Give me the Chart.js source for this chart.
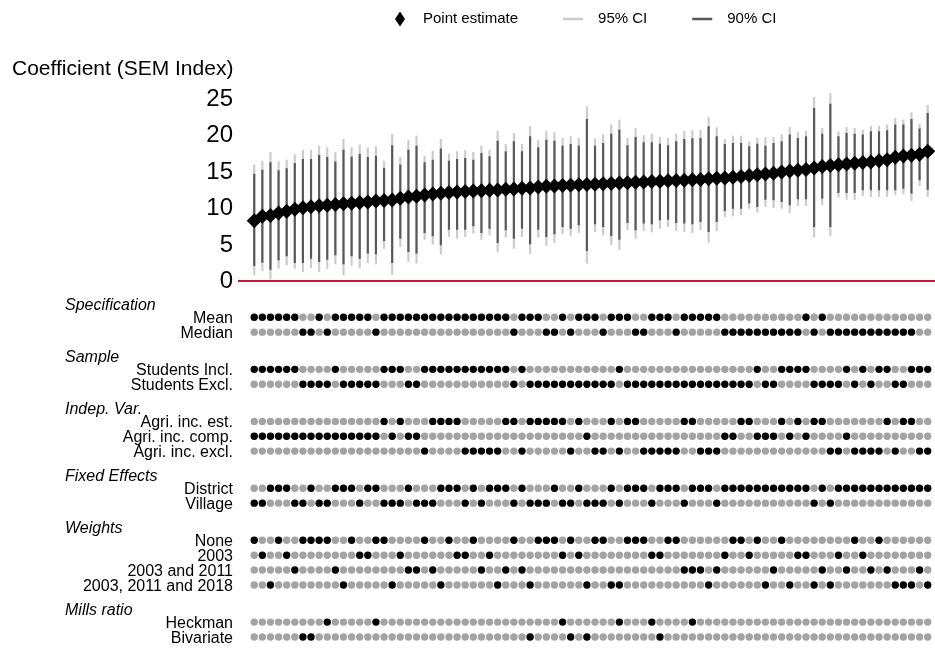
<!DOCTYPE html>
<html>
<head>
<meta charset="utf-8">
<script src="https://cdn.jsdelivr.net/npm/chart.js@4.4.1/dist/chart.umd.min.js"></script>
<style>
  html, body { margin: 0; padding: 0; background: #ffffff; }
  #wrap { position: relative; width: 935px; height: 648px; overflow: hidden; background: #fff; }
  canvas { position: absolute; left: 0; }
  #topChart { top: 0; }
  #bottomChart { top: 293px; }
</style>
</head>
<body>
<div id="wrap">
  <canvas id="topChart" width="935" height="293"></canvas>
  <canvas id="bottomChart" width="935" height="355"></canvas>
</div>
<script>
// ---------------- DATA ----------------
const estimate = [8.2, 8.8, 8.9, 9.25, 9.5, 9.75, 9.95, 10.1, 10.25, 10.3,
  10.4, 10.5, 10.58, 10.67, 10.76, 10.9, 10.95, 11.03, 11.26, 11.45,
  11.55, 11.7, 11.85, 11.95, 12.04, 12.12, 12.2, 12.25, 12.3, 12.35,
  12.4, 12.5, 12.55, 12.62, 12.68, 12.8, 12.9, 12.95, 13.0, 13.05,
  13.1, 13.15, 13.2, 13.25, 13.3, 13.35, 13.4, 13.45, 13.5, 13.55,
  13.6, 13.65, 13.7, 13.75, 13.8, 13.85, 13.95, 14.0, 14.05, 14.15,
  14.25, 14.4, 14.5, 14.6, 14.7, 14.85, 15.0, 15.1, 15.2, 15.4,
  15.6, 15.75, 15.85, 15.95, 16.05, 16.15, 16.25, 16.4, 16.55, 16.9,
  17.05, 17.15, 17.3, 17.7];

const ci95Low = [0.76, 1.35, 0.21, 1.67, 2.13, 1.67, 1.22, 1.76, 1.22, 1.67,
  2.27, 0.76, 2.08, 1.76, 2.45, 2.27, 4.41, 0.80, 4.64, 2.59,
  2.36, 5.64, 4.96, 3.59, 6.01, 5.78, 6.01, 6.47, 5.64, 6.24,
  3.96, 5.92, 4.41, 6.01, 3.64, 5.92, 4.78, 5.19, 6.38, 6.10,
  6.56, 2.36, 6.69, 6.24, 4.87, 4.18, 6.92, 5.78, 6.83, 6.65,
  7.15, 7.38, 6.83, 6.69, 6.56, 6.92, 5.23, 6.83, 8.75, 8.84,
  8.98, 9.89, 9.34, 10.12, 9.98, 9.89, 9.30, 10.26, 10.26, 5.92,
  10.35, 6.10, 11.40, 11.12, 11.12, 11.58, 11.49, 11.49, 11.49, 11.72,
  11.85, 10.94, 12.95, 11.49];

const ci90Low = [2.04, 2.49, 1.53, 2.81, 3.36, 2.45, 2.45, 3.04, 2.59, 2.90,
  3.50, 2.27, 3.36, 3.04, 3.73, 3.64, 5.46, 2.45, 5.78, 3.96,
  3.73, 6.56, 6.10, 4.87, 7.01, 7.01, 7.01, 7.47, 6.56, 7.15,
  5.19, 6.92, 5.78, 7.15, 5.01, 7.01, 6.01, 6.38, 7.38, 7.15,
  7.61, 4.09, 7.74, 7.38, 6.15, 5.64, 7.93, 6.92, 7.84, 7.74,
  8.29, 8.38, 7.93, 7.84, 7.74, 8.06, 6.69, 8.06, 9.57, 9.89,
  9.89, 10.58, 10.12, 11.12, 11.03, 10.80, 10.35, 11.17, 11.17, 7.38,
  11.26, 7.38, 12.04, 12.04, 12.04, 12.40, 12.40, 12.40, 12.40, 12.40,
  12.63, 11.95, 13.77, 12.49];

const ci90High = [14.59, 15.14, 16.15, 15.05, 15.32, 16.05, 16.60, 16.60, 17.15, 16.88,
  16.24, 17.88, 16.92, 17.29, 16.88, 17.06, 15.37, 18.47, 15.83, 17.88,
  18.43, 16.15, 16.51, 18.02, 16.37, 16.60, 16.74, 16.51, 17.43, 16.97,
  19.11, 17.65, 19.02, 17.65, 19.71, 18.20, 19.25, 19.11, 18.43, 18.66,
  18.43, 22.08, 18.43, 18.80, 20.07, 20.62, 18.47, 19.62, 18.89, 18.89,
  18.70, 18.47, 19.02, 19.34, 19.43, 19.48, 21.08, 19.71, 18.66, 18.80,
  18.80, 18.34, 18.70, 18.43, 18.80, 19.02, 19.94, 19.48, 19.71, 23.59,
  20.07, 24.18, 19.71, 20.16, 20.07, 19.94, 20.39, 20.39, 20.53, 21.31,
  21.31, 22.08, 20.76, 22.90];

const ci95High = [15.83, 16.37, 17.56, 16.28, 16.51, 17.24, 17.88, 17.88, 18.43, 18.20,
  17.52, 19.34, 18.20, 18.57, 18.16, 18.34, 16.37, 20.07, 16.88, 19.25,
  19.80, 17.06, 17.74, 19.34, 17.33, 17.65, 17.79, 17.56, 18.43, 17.88,
  20.48, 18.66, 20.16, 18.66, 21.08, 19.25, 20.48, 20.26, 19.48, 19.71,
  19.48, 23.82, 19.39, 19.94, 21.31, 21.99, 19.48, 20.80, 19.84, 20.07,
  19.62, 19.48, 20.07, 20.48, 20.53, 20.62, 22.36, 20.94, 19.34, 19.80,
  19.80, 19.02, 19.48, 19.62, 19.62, 19.94, 20.94, 20.30, 20.48, 25.10,
  20.85, 25.64, 20.39, 20.99, 20.85, 20.62, 21.17, 21.17, 21.31, 22.22,
  21.99, 23.00, 21.44, 24.00];

const yTicks = [0, 5, 10, 15, 20, 25];

// Specification choices per model (one digit per model, in sorted order)
const specCode   = "0000001101000001000000000000000010001101000100011000100000111111111101011111111111";
const sampleCode = "000000111101111100011000000000001011111111111011111111111111110110000111101010011000";
const indepCode  = "111111111111111101011200002222200200000201220200222220022211001110101002212222020022";
const fixedCode  = "110001101100010011101110001010001011101101110100010001000100000000000101000000000000";
const weightCode = "013012000023011003122023011021320230001013003300011002223210010320311323120120233323";
const millsCode  = "000000220100000100000000000000000020001202000100012000100000000000000000000000000000";

const groups = [
  { title: 'Specification', codes: specCode,   rows: [['Mean', 0], ['Median', 1]] },
  { title: 'Sample',        codes: sampleCode, rows: [['Students Incl.', 0], ['Students Excl.', 1]] },
  { title: 'Indep. Var.',   codes: indepCode,  rows: [['Agri. inc. est.', 0], ['Agri. inc. comp.', 1], ['Agri. inc. excl.', 2]] },
  { title: 'Fixed Effects', codes: fixedCode,  rows: [['District', 0], ['Village', 1]] },
  { title: 'Weights',       codes: weightCode, rows: [['None', 0], ['2003', 1], ['2003 and 2011', 2], ['2003, 2011 and 2018', 3]] },
  { title: 'Mills ratio',   codes: millsCode,  rows: [['Heckman', 1], ['Bivariate', 2]] }
];

const legendOrder = ['Point estimate', '95% CI', '90% CI'];

// ---------------- STYLE / BUILD ----------------
const FONT = '"Liberation Sans", Arial, Helvetica, sans-serif';
Chart.defaults.font.family = FONT;
Chart.defaults.color = '#000';

const nModels = estimate.length;
const X_MIN = -2, X_MAX = 83.9, AXIS_W = 238;
const COL_BLACK = '#000000', COL_GREY = '#a3a3a3';
const COL_95 = '#cbcbcb', COL_90 = '#585858', COL_ZERO = '#c8183c';

// row layout for the indicator matrix
const rowsFlat = [];
const headers = [];
{
  let slot = 0;
  groups.forEach((g, gi) => {
    if (gi > 0) slot += 1.5;
    headers.push({ text: g.title, slot: slot - 0.9 });
    g.rows.forEach(([label, code]) => {
      rowsFlat.push({ label, code, codes: g.codes.split('').map(Number), slot });
      slot += 1;
    });
  });
}
const labelOf = new Map(rowsFlat.map(r => [r.slot, r.label]));

const onDots = [], offDots = [];
rowsFlat.forEach(r => {
  for (let i = 0; i < nModels; i++) {
    (r.codes[i] === r.code ? onDots : offDots).push({ x: i, y: r.slot });
  }
});

function fixAxis(s) {
  s.width = AXIS_W;
  s.paddingTop = 0;
  s.paddingBottom = 0;
}

// ---------------- TOP CHART ----------------
const topDecor = {
  id: 'topDecor',
  afterDraw(chart) {
    const ctx = chart.ctx;
    ctx.save();
    ctx.fillStyle = '#000';
    ctx.textAlign = 'left';
    ctx.textBaseline = 'middle';
    ctx.font = '21px ' + FONT;
    ctx.fillText('Coefficient (SEM Index)', 12, 69);

    // legend
    ctx.font = '15px ' + FONT;
    const y = 19;
    let x = 395;
    legendOrder.forEach((name, k) => {
      const ds = chart.data.datasets.find(d => d.label === name);
      if (k > 0) x += 45;
      if (ds.type === 'scatter') {
        ctx.fillStyle = ds.backgroundColor;
        ctx.beginPath();
        ctx.moveTo(x + 5, y - 7.5);
        ctx.lineTo(x + 10, y);
        ctx.lineTo(x + 5, y + 7.5);
        ctx.lineTo(x, y);
        ctx.closePath();
        ctx.fill();
        x += 28;
      } else {
        ctx.strokeStyle = ds.backgroundColor;
        ctx.lineWidth = 2.5;
        ctx.beginPath();
        ctx.moveTo(x, y);
        ctx.lineTo(x + 20, y);
        ctx.stroke();
        x += 35;
      }
      ctx.fillStyle = '#000';
      ctx.fillText(name, x, y);
      x += ctx.measureText(name).width;
    });
    ctx.restore();
  }
};

new Chart(document.getElementById('topChart'), {
  type: 'bar',
  data: {
    datasets: [
      {
        type: 'scatter', label: 'Point estimate',
        data: estimate.map((v, i) => ({ x: i, y: v })),
        pointStyle: 'rectRot', pointRadius: 7.5, backgroundColor: COL_BLACK,
        borderWidth: 0, order: 0
      },
      {
        label: '90% CI',
        data: ci90Low.map((v, i) => ({ x: i, y: [v, ci90High[i]] })),
        backgroundColor: COL_90, barThickness: 1.5, grouped: false, borderWidth: 0, order: 1
      },
      {
        label: '95% CI',
        data: ci95Low.map((v, i) => ({ x: i, y: [v, ci95High[i]] })),
        backgroundColor: COL_95, barThickness: 1.5, grouped: false, borderWidth: 0, order: 2
      }
    ]
  },
  options: {
    responsive: false, animation: false, events: [],
    layout: { padding: { top: 87.05, bottom: 12.5, left: 0, right: 0 }, autoPadding: false },
    plugins: { legend: { display: false }, tooltip: { enabled: false } },
    scales: {
      x: { type: 'linear', min: X_MIN, max: X_MAX, display: false, offset: false },
      y: {
        type: 'linear', min: 0, max: 26.5,
        afterBuildTicks: s => { s.ticks = yTicks.map(v => ({ value: v })); },
        afterFit: fixAxis,
        grid: {
          color: c => (c.tick && c.tick.value === 0 ? COL_ZERO : 'rgba(0,0,0,0)'),
          lineWidth: 2, drawTicks: false
        },
        border: { display: false },
        ticks: { autoSkip: false, padding: 5, labelOffset: 1, font: { size: 24 }, color: '#000' }
      }
    }
  },
  plugins: [topDecor]
});

// ---------------- BOTTOM CHART ----------------
const headerPlugin = {
  id: 'groupHeaders',
  afterDraw(chart) {
    const ctx = chart.ctx, ys = chart.scales.y;
    ctx.save();
    ctx.font = 'italic 16px ' + FONT;
    ctx.fillStyle = '#000';
    ctx.textAlign = 'left';
    ctx.textBaseline = 'middle';
    headers.forEach(h => ctx.fillText(h.text, 65, ys.getPixelForValue(h.slot) + 1.5));
    ctx.restore();
  }
};

new Chart(document.getElementById('bottomChart'), {
  type: 'scatter',
  data: {
    datasets: [
      { label: 'selected', data: onDots, backgroundColor: COL_BLACK, borderWidth: 0, pointRadius: 3.7, order: 0 },
      { label: 'not selected', data: offDots, backgroundColor: COL_GREY, borderWidth: 0, pointRadius: 3.7, order: 1 }
    ]
  },
  options: {
    responsive: false, animation: false, events: [],
    layout: { padding: { top: 2, bottom: 3.6, left: 0, right: 0 }, autoPadding: false },
    plugins: { legend: { display: false }, tooltip: { enabled: false } },
    scales: {
      x: { type: 'linear', min: X_MIN, max: X_MAX, display: false },
      y: {
        type: 'linear', reverse: true, min: -1.5, max: 22,
        afterBuildTicks: s => { s.ticks = rowsFlat.map(r => ({ value: r.slot })); },
        afterFit: fixAxis,
        grid: { display: false, drawTicks: false },
        border: { display: false },
        ticks: { autoSkip: false, padding: 5, labelOffset: 1.5, font: { size: 16 }, color: '#000',
                 callback: v => labelOf.get(v) }
      }
    }
  },
  plugins: [headerPlugin]
});
</script>
</body>
</html>
